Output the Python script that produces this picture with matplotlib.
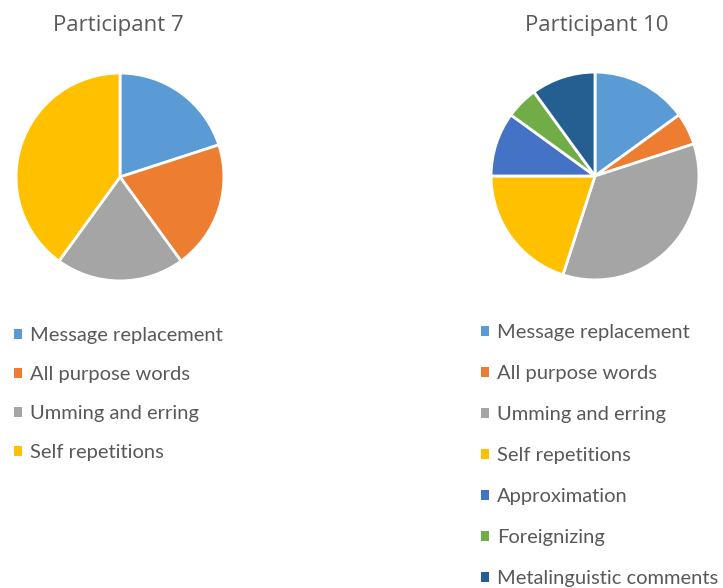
import matplotlib
matplotlib.use('Agg')
import matplotlib.pyplot as plt
from matplotlib.patches import Patch

# categories and colours (Office palette)
categories = ['Message replacement', 'All purpose words', 'Umming and erring',
              'Self repetitions', 'Approximation', 'Foreignizing',
              'Metalinguistic comments']
colors = ['#5B9BD5', '#ED7D31', '#A5A5A5', '#FFC000', '#4472C4', '#70AD47', '#255E91']

# shares (percent)
p7_values = [20, 20, 20, 40]
p10_values = [15, 5, 35, 20, 10, 5, 10]

text_color = '#595959'
W, H = 723, 588

fig = plt.figure(figsize=(W / 100, H / 100), dpi=100)


def pie_axes(cx, cy, r):
    return fig.add_axes([(cx - r) / W, (H - cy - r) / H, 2 * r / W, 2 * r / H])


def draw_pie(ax, values, cols):
    ax.pie(values, colors=cols, startangle=90, counterclock=False, radius=1,
           wedgeprops=dict(edgecolor='white', linewidth=2))
    ax.set_xlim(-1.02, 1.02)
    ax.set_ylim(-1.02, 1.02)
    ax.set_aspect('equal')
    ax.axis('off')


ax1 = pie_axes(120, 177, 106)
draw_pie(ax1, p7_values, colors[:len(p7_values)])
ax2 = pie_axes(595, 176, 106)
draw_pie(ax2, p10_values, colors[:len(p10_values)])

fig.text(118 / W, 1 - 25 / H, 'Participant 7', ha='center', va='center',
         fontsize=16, color=text_color, family='Open Sans')
fig.text(597 / W, 1 - 25 / H, 'Participant 10', ha='center', va='center',
         fontsize=16, color=text_color, family='Open Sans')


def draw_legend(n, x, y, spacing):
    handles = [Patch(facecolor=colors[i], edgecolor='none') for i in range(n)]
    fig.legend(handles, categories[:n], loc='upper left',
               bbox_to_anchor=(x / W, 1 - y / H), frameon=False,
               prop=dict(family='Lato', size=14.5), labelcolor=text_color,
               handlelength=0.38, handleheight=0.38, handletextpad=0.4,
               labelspacing=spacing, borderpad=0, borderaxespad=0)


draw_legend(4, 14, 327, 1.09)
draw_legend(7, 481, 324, 1.19)

fig.savefig('out.png', dpi=100, facecolor='white')
